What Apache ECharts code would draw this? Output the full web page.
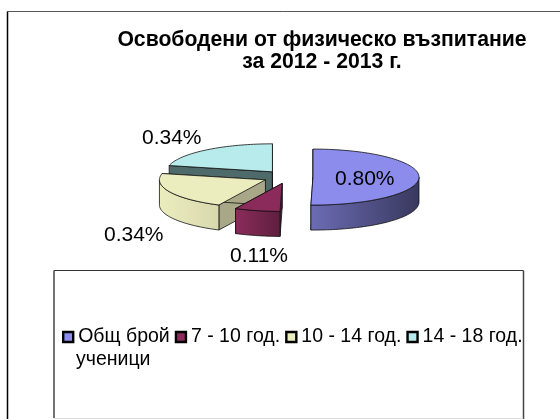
<!DOCTYPE html>
<html><head><meta charset="utf-8">
<style>html,body{margin:0;padding:0;background:#fff}#c{width:560px;height:419px}</style>
<script src="https://cdn.jsdelivr.net/npm/echarts@6/dist/echarts.min.js"></script>
</head><body><div id="c"></div>
<script>
var categories=['Общ брой','7 - 10 год.','10 - 14 год.','14 - 18 год.'];
var values=[0.80,0.11,0.34,0.34];
var labels=['0.80%','0.11%','0.34%','0.34%'];
var topColors=['#8c8cec','#8b2b5b','#ecedbe','#b8ecec'];
var sideFrom=['#6c6cb4','#8a2c5a','#ecedbe','#8cb4b4'];
var sideTo=['#38385e','#5e1f3e','#d8d8ae','#5c7c7c'];
var radialColors=['#5a5a9c','#5e1f3e','#a8a888','#4f6a6a'];
var drawOrder=[3,2,0,1];
var total=values.reduce(function(a,b){return a+b;},0);
var geo={cx:288,cy:177,rx:106,ry:28,depth:25,explode:25};
function startOf(i){var s=0;for(var k=0;k<i;k++)s+=values[k];return s/total*Math.PI*2;}
function pt(ox,oy,a,d){return [ox+geo.rx*Math.sin(a),oy-geo.ry*Math.cos(a)+(d||0)];}
function arcPts(ox,oy,a0,a1,d){var n=Math.max(2,Math.ceil((a1-a0)/0.03)),r=[];for(var j=0;j<=n;j++){r.push(pt(ox,oy,a0+(a1-a0)*j/n,d));}return r;}
function renderSlice(i){return function(params,api){
  var v=api.value(0);
  var a0=startOf(i),a1=a0+v/total*Math.PI*2,m=(a0+a1)/2;
  var ox=geo.cx+geo.explode*Math.sin(m),oy=geo.cy-geo.explode*geo.ry/geo.rx*Math.cos(m);
  var d=geo.depth,line={stroke:'#111',lineWidth:0.8,lineJoin:'round'};
  var kids=[];
  function poly(pts,fill){kids.push({type:'polygon',shape:{points:pts},style:Object.assign({fill:fill},line)});}
  var c=[ox,oy],cd=[ox,oy+d];
  var p0=pt(ox,oy,a0),p1=pt(ox,oy,a1);
  poly([c,p0,[p0[0],p0[1]+d],cd],radialColors[i]);
  poly([c,p1,[p1[0],p1[1]+d],cd],radialColors[i]);
  var f0=Math.max(a0,Math.PI/2),f1=Math.min(a1,Math.PI*1.5);
  if(f1>f0){
    var top=arcPts(ox,oy,f0,f1,0),bot=arcPts(ox,oy,f0,f1,d).reverse();
    var left=i===0;
    poly(top.concat(bot),{type:'linear',x:left?1:0,y:0,x2:left?0:1,y2:0,colorStops:[{offset:0,color:left?sideTo[i]:sideFrom[i]},{offset:1,color:left?sideFrom[i]:sideTo[i]}]});
  }
  poly([c].concat(arcPts(ox,oy,a0,a1,0)),topColors[i]);
  return {type:'group',children:kids};
};}
var series=drawOrder.map(function(i){return {
  type:'custom',name:categories[i],coordinateSystem:'none',z:2+drawOrder.indexOf(i),
  itemStyle:{color:topColors[i]},
  renderItem:renderSlice(i),data:[[values[i]]],silent:true
};});
var chart=echarts.init(document.getElementById('c'),null,{renderer:'canvas'});
var font='"Liberation Sans",Arial,sans-serif';
var tx={fontFamily:font,fontSize:21,fill:'#000'};
var lg={fontFamily:font,fontSize:19.5,fill:'#000'};
chart.setOption({
  animation:false,backgroundColor:'#fff',
  title:{text:'Освободени от физическо възпитание\nза 2012 - 2013 г.',left:322,top:29,textAlign:'center',padding:0,
    textStyle:{fontFamily:font,fontSize:21.2,fontWeight:'bold',color:'#000',lineHeight:22}},
  legend:{data:categories,left:62,top:327,padding:0,icon:'rect',itemWidth:10,itemHeight:10,itemGap:5,
    itemStyle:{borderColor:'#000',borderWidth:2.4},
    textStyle:{fontFamily:font,fontSize:19.5,color:'#000'}},
  series:series,
  graphic:[
    {type:'line',z:0,shape:{x1:7.5,y1:11.5,x2:560,y2:11.5},style:{stroke:'#555',lineWidth:1}},
    {type:'line',z:0,shape:{x1:7.5,y1:11.5,x2:7.5,y2:419},style:{stroke:'#000',lineWidth:1.5}},
    {type:'line',z:1,shape:{x1:54,y1:270.5,x2:523.5,y2:270.5},style:{stroke:'#333',lineWidth:1}},
    {type:'line',z:1,shape:{x1:54,y1:270.5,x2:54,y2:418},style:{stroke:'#444',lineWidth:1.5}},
    {type:'line',z:1,shape:{x1:523.5,y1:270.5,x2:523.5,y2:419},style:{stroke:'#444',lineWidth:1.5}},
    {type:'line',z:1,shape:{x1:54,y1:418.5,x2:523,y2:418.5},style:{stroke:'#ddd',lineWidth:1}},
    {type:'text',z:10,left:76,top:350,style:Object.assign({text:'ученици'},lg)},
    {type:'text',z:10,left:335,top:169,style:Object.assign({text:labels[0]},tx)},
    {type:'text',z:10,left:230,top:246,style:Object.assign({text:labels[1]},tx)},
    {type:'text',z:10,left:104,top:225,style:Object.assign({text:labels[2]},tx)},
    {type:'text',z:10,left:142,top:128,style:Object.assign({text:labels[3]},tx)}
  ]
});
</script></body></html>
